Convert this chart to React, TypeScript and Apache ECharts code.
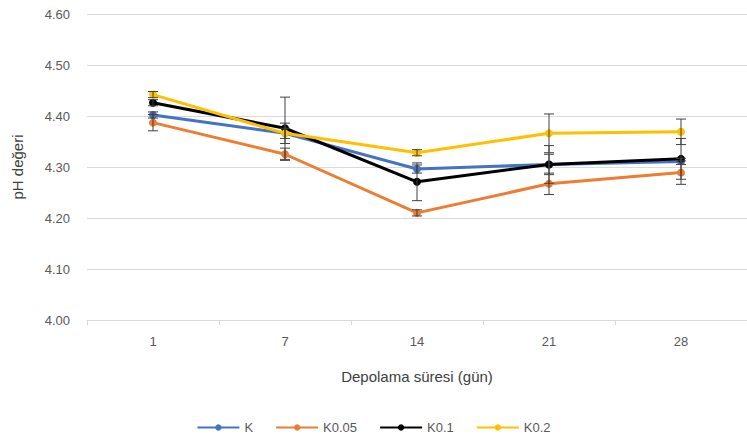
import React, { useEffect, useRef } from "react";
import * as echarts from "echarts";

const categories = ["1", "7", "14", "21", "28"];
const seriesNames = ["K", "K0.05", "K0.1", "K0.2"];
const seriesColors = ["#4472C4", "#ED7D31", "#000000", "#FFC000"];
const valuesK = [4.402, 4.366, 4.296, 4.305, 4.311];
const valuesK005 = [4.387, 4.325, 4.21, 4.267, 4.289];
const valuesK01 = [4.426, 4.376, 4.271, 4.305, 4.316];
const valuesK02 = [4.442, 4.366, 4.328, 4.366, 4.369];
const errK = [0.006, 0.01, 0.008, 0.02, 0.006];
const errK005 = [0.016, 0.012, 0.006, 0.021, 0.023];
const errK01 = [0.006, 0.061, 0.037, 0.037, 0.04];
const errK02 = [0.006, 0.02, 0.006, 0.038, 0.025];
const yTicks = [4.0, 4.1, 4.2, 4.3, 4.4, 4.5, 4.6];

const FONT = "'Liberation Sans Narrow', 'Liberation Sans', Arial, sans-serif";

export default function App() {
  const ref = useRef<HTMLDivElement>(null);
  useEffect(() => {
    if (!ref.current) return;
    const chart = echarts.init(ref.current, null, { renderer: "svg" });
    const allValues = [valuesK, valuesK005, valuesK01, valuesK02];
    const allErr = [errK, errK005, errK01, errK02];
    const errData: number[][] = [];
    allValues.forEach((vals, s) => {
      vals.forEach((v, i) => {
        errData.push([i, v - allErr[s][i], v + allErr[s][i]]);
      });
    });
    const lineSeries = seriesNames.map((name, s) => ({
      name,
      type: "line",
      data: allValues[s],
      symbol: "circle",
      symbolSize: 8,
      lineStyle: { width: 3, color: seriesColors[s] },
      itemStyle: { color: seriesColors[s] },
      z: 2 + s,
    }));
    chart.setOption({
      animation: false,
      backgroundColor: "#ffffff",
      grid: { left: 87, top: 14, width: 664, height: 306, containLabel: false },
      legend: {
        bottom: 4,
        left: "center",
        itemWidth: 42,
        itemHeight: 8,
        itemGap: 22,
        data: seriesNames,
        textStyle: { color: "#595959", fontSize: 13, fontFamily: FONT },
      },
      xAxis: {
        type: "category",
        data: categories,
        boundaryGap: true,
        name: "Depolama süresi (gün)",
        nameLocation: "middle",
        nameGap: 49,
        nameTextStyle: { color: "#404040", fontSize: 15, fontFamily: FONT },
        axisLine: { lineStyle: { color: "#D9D9D9" } },
        axisTick: { show: true, length: 5, lineStyle: { color: "#D9D9D9" } },
        axisLabel: { color: "#595959", fontSize: 13, fontFamily: FONT, margin: 15 },
      },
      yAxis: {
        type: "value",
        min: yTicks[0],
        max: yTicks[yTicks.length - 1],
        interval: 0.1,
        name: "pH değeri",
        nameLocation: "middle",
        nameGap: 62,
        nameTextStyle: { color: "#404040", fontSize: 15, fontFamily: FONT },
        axisLine: { show: false },
        axisTick: { show: false },
        splitLine: { lineStyle: { color: "#D9D9D9", width: 1 } },
        axisLabel: {
          color: "#595959",
          fontSize: 13,
          fontFamily: FONT,
          margin: 17,
          formatter: (v: number) => v.toFixed(2),
        },
      },
      series: [
        ...lineSeries,
        {
          type: "custom",
          name: "err",
          data: errData,
          z: 10,
          silent: true,
          renderItem: (params: any, api: any) => {
            const x = api.value(0);
            const lo = api.coord([x, api.value(1)]);
            const hi = api.coord([x, api.value(2)]);
            const w = 5;
            const style = { stroke: "#404040", lineWidth: 1 };
            return {
              type: "group",
              children: [
                { type: "line", shape: { x1: lo[0], y1: lo[1], x2: hi[0], y2: hi[1] }, style },
                { type: "line", shape: { x1: lo[0] - w, y1: lo[1], x2: lo[0] + w, y2: lo[1] }, style },
                { type: "line", shape: { x1: hi[0] - w, y1: hi[1], x2: hi[0] + w, y2: hi[1] }, style },
              ],
            };
          },
        },
      ],
    });
    return () => chart.dispose();
  }, []);
  return <div ref={ref} style={{ width: 747, height: 443, position: "absolute", left: 0, top: 0 }} />;
}
